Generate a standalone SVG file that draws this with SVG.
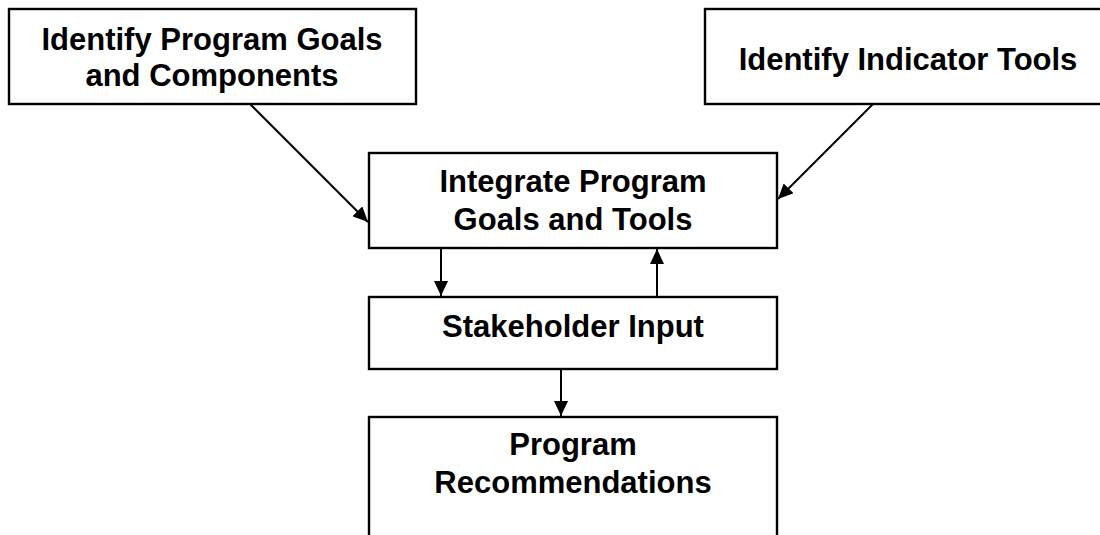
<svg xmlns="http://www.w3.org/2000/svg" width="1100" height="535" viewBox="0 0 1100 535">
<style>
.box{fill:#fff;stroke:#000;stroke-width:2.4}
.lbl{font-family:"Liberation Sans",Arial,sans-serif;font-weight:bold;font-size:31px;fill:#000;text-anchor:middle}
.conn{stroke:#000;stroke-width:2;fill:none}
</style>
<defs>
<marker id="ah" markerUnits="userSpaceOnUse" markerWidth="15" markerHeight="14" refX="15" refY="7" orient="auto">
<path d="M0,0 L15,7 L0,14 z" fill="#000"/>
</marker>
</defs>
<rect width="1100" height="535" fill="#fff"/>
<g id="connectors">
<line class="conn" x1="250" y1="104" x2="368" y2="222" marker-end="url(#ah)"/>
<line class="conn" x1="873" y1="104" x2="778" y2="199" marker-end="url(#ah)"/>
<line class="conn" x1="441" y1="248" x2="441" y2="296" marker-end="url(#ah)"/>
<line class="conn" x1="657" y1="297" x2="657" y2="249" marker-end="url(#ah)"/>
<line class="conn" x1="561" y1="369" x2="561" y2="416" marker-end="url(#ah)"/>
</g>
<g id="node-goals">
<rect class="box" x="9" y="9" width="407" height="95"/>
<text class="lbl" x="212" y="50">Identify Program Goals</text>
<text class="lbl" x="212" y="86">and Components</text>
</g>
<g id="node-tools">
<rect class="box" x="705" y="9" width="410" height="95"/>
<text class="lbl" x="908" y="70">Identify Indicator Tools</text>
</g>
<g id="node-integrate">
<rect class="box" x="369" y="153" width="408" height="95"/>
<text class="lbl" x="573" y="192">Integrate Program</text>
<text class="lbl" x="573" y="230">Goals and Tools</text>
</g>
<g id="node-stakeholder">
<rect class="box" x="369" y="297" width="408" height="72"/>
<text class="lbl" x="573" y="337">Stakeholder Input</text>
</g>
<g id="node-recommendations">
<rect class="box" x="369" y="417" width="408" height="130"/>
<text class="lbl" x="573" y="455">Program</text>
<text class="lbl" x="573" y="493">Recommendations</text>
</g>
</svg>
